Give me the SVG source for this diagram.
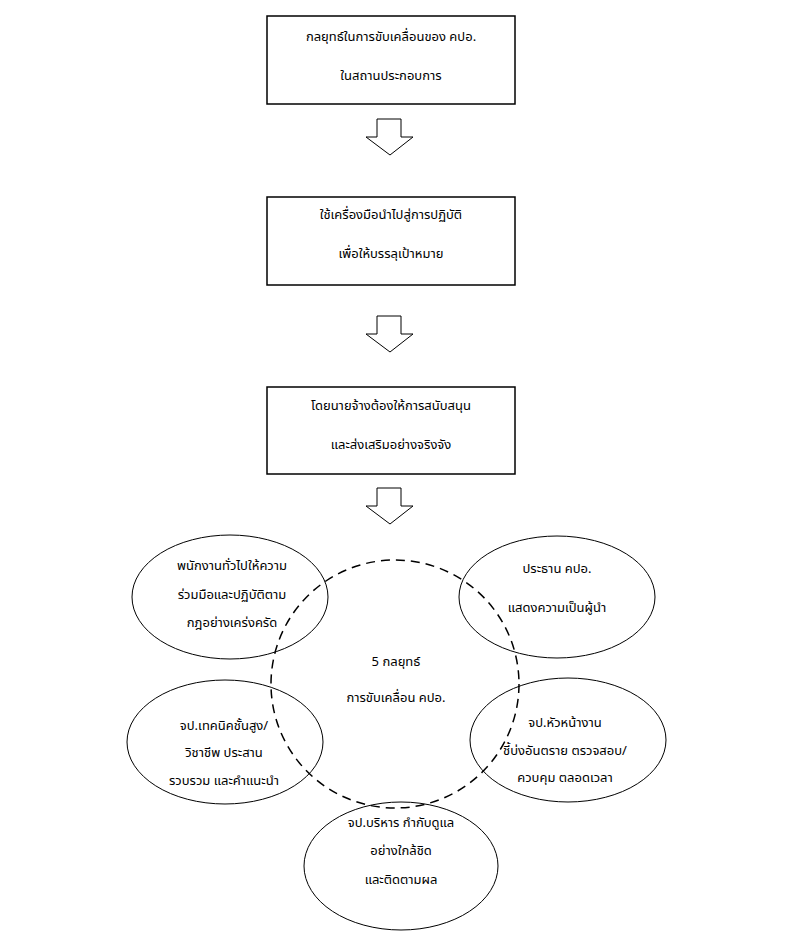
<svg xmlns="http://www.w3.org/2000/svg" width="792" height="939" viewBox="0 0 792 939">
<style>
.box{fill:#fff;stroke:#000;stroke-width:1.5}
.ell{fill:none;stroke:#000;stroke-width:1}
.dash{fill:none;stroke:#000;stroke-width:1.5;stroke-dasharray:9,6}
.arr{fill:#fff;stroke:#000;stroke-width:1}
text{font-family:"Noto Sans Thai","Tahoma","Liberation Sans",sans-serif;font-size:13px;fill:#000;text-anchor:middle}
</style>
<rect width="792" height="939" fill="#fff"/>
<g id="box1"><rect class="box" x="267" y="16" width="248" height="88"/><text x="391" y="41">กลยุทธ์ในการขับเคลื่อนของ คปอ.</text><text x="391" y="80">ในสถานประกอบการ</text></g>
<g id="box2"><rect class="box" x="267" y="197" width="248" height="88"/><text x="391" y="219">ใช้เครื่องมือนำไปสู่การปฏิบัติ</text><text x="391" y="258">เพื่อให้บรรลุเป้าหมาย</text></g>
<g id="box3"><rect class="box" x="267" y="387" width="248" height="87"/><text x="391" y="410">โดยนายจ้างต้องให้การสนับสนุน</text><text x="391" y="449">และส่งเสริมอย่างจริงจัง</text></g>
<g id="connectors">
<path class="arr" d="M377,119 H401 V137 H413 L390,155 L366,137 H377 Z"/>
<path class="arr" d="M377,316 H401 V334 H413 L390,352 L366,334 H377 Z"/>
<path class="arr" d="M377,488 H401 V506 H413 L390,524 L366,506 H377 Z"/>
</g>
<g id="e-tl"><ellipse class="ell" cx="230" cy="597" rx="98" ry="62"/></g>
<g id="e-tr"><ellipse class="ell" cx="557" cy="597" rx="98" ry="61"/></g>
<g id="e-bl"><ellipse class="ell" cx="225" cy="742" rx="98" ry="62"/></g>
<g id="e-br"><ellipse class="ell" cx="568" cy="740" rx="98" ry="62"/></g>
<g id="e-bc"><ellipse class="ell" cx="401" cy="866" rx="97" ry="64"/></g>
<g id="center"><circle class="dash" cx="395" cy="684" r="124"/><text x="396" y="666">5 กลยุทธ์</text><text x="396" y="702">การขับเคลื่อน คปอ.</text></g>
<g id="t-tl"><text x="232" y="570">พนักงานทั่วไปให้ความ</text><text x="232" y="599">ร่วมมือและปฏิบัติตาม</text><text x="232" y="627">กฎอย่างเคร่งครัด</text></g>
<g id="t-tr"><text x="557" y="573">ประธาน คปอ.</text><text x="557" y="612">แสดงความเป็นผู้นำ</text></g>
<g id="t-bl"><text x="224" y="730">จป.เทคนิคชั้นสูง/</text><text x="224" y="757">วิชาชีพ ประสาน</text><text x="224" y="785">รวบรวม และคำแนะนำ</text></g>
<g id="t-br"><text x="565" y="727">จป.หัวหน้างาน</text><text x="565" y="755">ชี้บ่งอันตราย ตรวจสอบ/</text><text x="565" y="782">ควบคุม ตลอดเวลา</text></g>
<g id="t-bc"><text x="401" y="827">จป.บริหาร กำกับดูแล</text><text x="401" y="855">อย่างใกล้ชิด</text><text x="401" y="884">และติดตามผล</text></g>
</svg>
